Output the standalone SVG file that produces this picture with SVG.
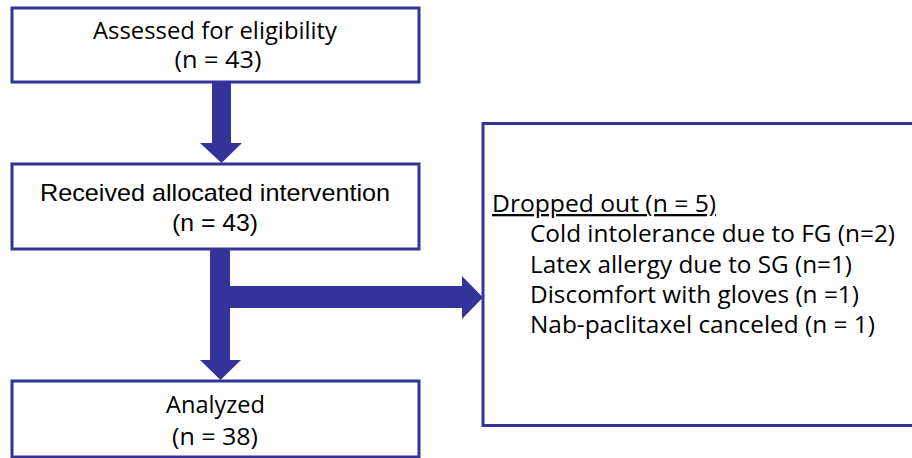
<svg xmlns="http://www.w3.org/2000/svg" width="912" height="458" viewBox="0 0 912 458">
<style>
.box{fill:#fff;stroke:#333399;stroke-width:3}
.arr{fill:#333399;stroke:none}
.seg{font-family:"Open Sans","Noto Sans",sans-serif;font-size:23px;fill:#000}
.ari{font-family:"Liberation Sans",Arial,sans-serif;font-size:24px;fill:#000}
</style>
<rect width="912" height="458" fill="#fff"/>
<g id="connectors">
<polygon class="arr" points="212,82 231,82 231,143 242,143 221.5,163 200,143 212,143"/>
<polygon class="arr" points="210,249 230,249 230,360 241,360 220.5,380 200,360 210,360"/>
<polygon class="arr" points="229,286 462,286 462,276 483,297.5 462,319 462,308 229,308"/>
</g>
<g id="assessed">
<rect class="box" x="12" y="8" width="407" height="74"/>
<text class="seg" x="215" y="39" text-anchor="middle" textLength="244" lengthAdjust="spacingAndGlyphs">Assessed for eligibility</text>
<text class="seg" x="218" y="68" text-anchor="middle" textLength="87" lengthAdjust="spacingAndGlyphs">(n = 43)</text>
</g>
<g id="received">
<rect class="box" x="12" y="164" width="407" height="85"/>
<text class="ari" x="215" y="200.5" text-anchor="middle" textLength="350" lengthAdjust="spacingAndGlyphs">Received allocated intervention</text>
<text class="ari" x="215" y="231" text-anchor="middle" textLength="86" lengthAdjust="spacingAndGlyphs">(n = 43)</text>
</g>
<g id="analyzed">
<rect class="box" x="12" y="381" width="407" height="76"/>
<text class="seg" x="215.5" y="413" text-anchor="middle" textLength="99" lengthAdjust="spacingAndGlyphs">Analyzed</text>
<text class="seg" x="215" y="445" text-anchor="middle" textLength="86" lengthAdjust="spacingAndGlyphs">(n = 38)</text>
</g>
<g id="dropped">
<rect class="box" x="483" y="123.5" width="440" height="302"/>
<text class="seg" x="492" y="212" textLength="224" lengthAdjust="spacingAndGlyphs" text-decoration="underline">Dropped out (n = 5)</text>
<text class="seg" x="530" y="242" textLength="365" lengthAdjust="spacingAndGlyphs">Cold intolerance due to FG (n=2)</text>
<text class="seg" x="530" y="272.5" textLength="322" lengthAdjust="spacingAndGlyphs">Latex allergy due to SG (n=1)</text>
<text class="seg" x="530" y="302.5" textLength="329" lengthAdjust="spacingAndGlyphs">Discomfort with gloves (n =1)</text>
<text class="seg" x="530" y="332.5" textLength="345" lengthAdjust="spacingAndGlyphs">Nab-paclitaxel canceled (n = 1)</text>
</g>
</svg>
